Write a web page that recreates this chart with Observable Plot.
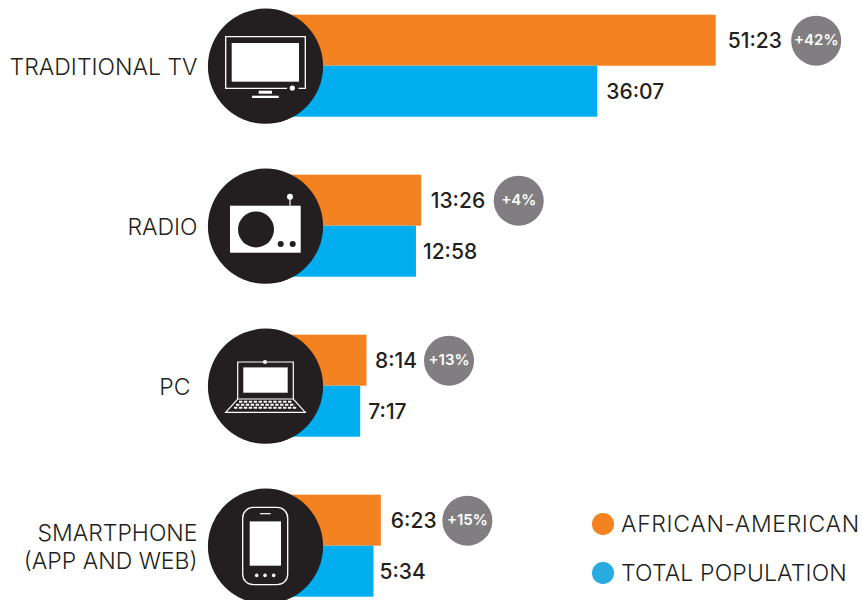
<!DOCTYPE html>
<html>
<head>
<meta charset="utf-8">
<script src="https://cdn.jsdelivr.net/npm/d3@7"></script>
<script src="https://cdn.jsdelivr.net/npm/@observablehq/plot@0.6"></script>
<style>
html,body{margin:0;padding:0;background:#fff;overflow:hidden}
#wrap{position:relative;width:862px;height:600px}
#wrap svg{display:block}
.lg{position:absolute;left:592px;display:flex;align-items:center;height:24px;font:300 23px Inter,sans-serif;color:#231f20;white-space:nowrap}
.lg i{display:block;width:21.5px;height:21.5px;border-radius:50%;margin-right:7.5px}
</style>
</head>
<body>
<div id="wrap"></div>
<script>
const categories = ["TRADITIONAL TV", "RADIO", "PC", "SMARTPHONE\n(APP AND WEB)"];
const icons = ["tv", "radio", "laptop", "phone"];
// Bar lengths in minutes, as drawn in the picture
const africanAmerican = [51.38, 13.43, 6.38, 8.23];
const totalPopulation = [36.12, 12.75, 5.57, 7.28];
// Labels as printed in the picture
const africanAmericanLabels = ["51:23", "13:26", "8:14", "6:23"];
const totalPopulationLabels = ["36:07", "12:58", "7:17", "5:34"];
const badges = ["+42%", "+4%", "+13%", "+15%"];
const seriesNames = ["AFRICAN-AMERICAN", "TOTAL POPULATION"];

const ORANGE = "#f58220", BLUE = "#00aeef", DARK = "#231f20", GREY = "#807e80";
const FONT = "Inter, sans-serif";
const BAR = 0.319;          // bar thickness in row units
const A_GAPS = [11.5, 9, 8, 9.5];     // value label distance from the bar end, px
const T_GAPS = [8.5, 6.5, 7.5, 5.5];
const BADGE_GAPS = [100, 97, 82, 86]; // badge distance from the bar end, px
const rows = categories.map((c, i) => ({
  row: i, category: c, icon: icons[i], a: africanAmerican[i], t: totalPopulation[i],
  aLabel: africanAmericanLabels[i], tLabel: totalPopulationLabels[i], badge: badges[i]
}));

function drawIcons(index, scales) {
  const root = d3.create("svg:g");
  const W = "#fff";
  for (const d of rows) {
    const g = root.append("g").attr("transform", `translate(${scales.x(0) - 52},${scales.y(d.row)})`);
    const rect = (x1, y1, x2, y2, fill = W) => g.append("rect").attr("x", x1).attr("y", y1).attr("width", x2 - x1).attr("height", y2 - y1).attr("fill", fill);
    const circ = (x, y, r, fill = W) => g.append("circle").attr("cx", x).attr("cy", y).attr("r", r).attr("fill", fill);
    const path = (p, w = 1.2, extra = {}) => { const e = g.append("path").attr("d", p).attr("fill", "none").attr("stroke", W).attr("stroke-width", w); for (const k in extra) e.attr(k, extra[k]); return e; };
    if (d.icon === "tv") {
      path("M 22 22.7 H -39.3 V -29 H 40.3 V 22.7 H 33.5", 1.3);
      rect(-33.3, -22.7, 34, 16);
      circ(27.3, 22.3, 2.6);
      rect(-6.3, 25, 7, 28);
      rect(-13, 30, 13.7, 32.3);
    } else if (d.icon === "radio") {
      rect(-35, -20, 35.7, 27);
      circ(-9, 3.7, 18, DARK);
      circ(15.7, 18.3, 3, DARK);
      circ(27.7, 18.3, 3, DARK);
      path("M 25 -29 V -20", 1.2);
      circ(25, -29, 3);
    } else if (d.icon === "laptop") {
      path("M -27.3 13.3 V -23.7 H 28.3 V 13.3", 1.2);
      circ(0, -23.7, 2);
      rect(-21.7, -18.3, 22.7, 7);
      path("M -27.3 13.3 H 28.3 L 40.3 26.7 H -39.3 Z", 1.2);
      path("M -26 16 H 27", 2, {"stroke-dasharray": "3.4 1.5"});
      path("M -29 19 H 30", 2, {"stroke-dasharray": "3.4 1.5"});
      path("M -31 22 H 32", 2, {"stroke-dasharray": "3.4 1.5"});
    } else {
      g.append("rect").attr("x", -22.3).attr("y", -38.3).attr("width", 45).attr("height", 77.3).attr("rx", 10.5)
        .attr("fill", "none").attr("stroke", W).attr("stroke-width", 1.3);
      rect(-15.3, -24.3, 16, 20);
      path("M -5 -32 H 5.7", 1.2);
      circ(-8.3, 29.7, 1.8); circ(0, 29.7, 1.8); circ(8.7, 29.7, 1.8);
    }
  }
  return root.node();
}

const labelStyle = {fontFamily: FONT, fontSize: 21, fontWeight: 500, fill: DARK, textAnchor: "start", dy: 0.5};
const categoryStyle = {x: () => 0, y: "row", text: "category", textAnchor: "end", dy: -0.5,
  fontFamily: FONT, fontSize: 23, fontWeight: 300, fill: DARK, lineHeight: 1.22};

const chart = Plot.plot({
  width: 862, height: 600,
  margin: 0,
  style: {background: "#fff", fontFamily: FONT},
  x: {domain: [0, 70], range: [317, 860.2], axis: null},
  y: {domain: [0, 3], range: [65.7, 545.7], axis: null},
  marks: [
    Plot.rectX(rows, {x1: 0, x2: "a", y1: d => d.row - BAR, y2: "row", fill: ORANGE, insetLeft: -40}),
    Plot.rectX(rows, {x1: 0, x2: "t", y1: "row", y2: d => d.row + BAR, fill: BLUE, insetLeft: -40}),
    Plot.dot(rows, {x: () => 0, y: "row", dx: -52, r: 57.6, fill: DARK, stroke: "none"}),
    drawIcons,
    Plot.text(rows, {filter: d => d.category !== "PC", dx: -120, ...categoryStyle}),
    Plot.text(rows, {filter: d => d.category === "PC", dx: -127, ...categoryStyle}),
    ...rows.flatMap((d, i) => [
      Plot.text([d], {x: "a", y: e => e.row - BAR / 2, dx: A_GAPS[i], text: "aLabel", ...labelStyle}),
      Plot.text([d], {x: "t", y: e => e.row + BAR / 2, dx: T_GAPS[i], text: "tLabel", ...labelStyle}),
      Plot.dot([d], {x: "a", y: e => e.row - BAR / 2, dx: BADGE_GAPS[i], r: 25, fill: GREY, stroke: "none"}),
      Plot.text([d], {x: "a", y: e => e.row - BAR / 2, dx: BADGE_GAPS[i], text: "badge", fill: "#fff", fontFamily: FONT, fontSize: 15, fontWeight: 600})
    ])
  ]
});
const wrap = document.getElementById("wrap");
wrap.appendChild(chart);
[["#f58220", 512, "0.65px"], ["#29abe2", 561, "0.15px"]].forEach(([color, top, spacing], i) => {
  const el = document.createElement("div");
  el.className = "lg";
  el.style.top = top + "px";
  el.style.letterSpacing = spacing;
  const dot = document.createElement("i");
  dot.style.background = color;
  el.appendChild(dot);
  el.appendChild(document.createTextNode(seriesNames[i]));
  wrap.appendChild(el);
});
</script>
</body>
</html>
